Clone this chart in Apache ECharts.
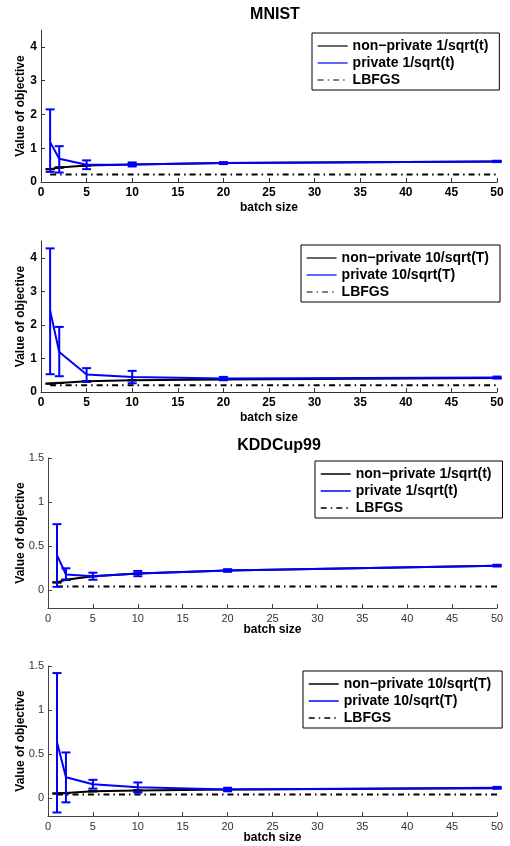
<!DOCTYPE html>
<html>
<head>
<meta charset="utf-8">
<script src="https://cdn.jsdelivr.net/npm/echarts@6/dist/echarts.min.js"></script>
<style>
  html, body { margin: 0; padding: 0; background: #fff; }
  #chart { width: 510px; height: 846px; }
</style>
</head>
<body>
<div id="chart"></div>
<script>
// Batch sizes on the x axis (shared by every panel)
const batchSizes = [1, 2, 5, 10, 20, 50];

// MNIST, step size 1/sqrt(t)
const mnistNonPrivA = [0.38, 0.43, 0.49, 0.52, 0.56, 0.61];
const mnistPrivA    = [1.18, 0.69, 0.51, 0.52, 0.56, 0.61];
const mnistPrivALo  = [0.30, 0.28, 0.38, 0.46, 0.53, 0.59];
const mnistPrivAHi  = [2.15, 1.06, 0.64, 0.58, 0.59, 0.63];
const mnistLbfgsA   = [0.22, 0.22, 0.22, 0.22, 0.22, 0.22];

// MNIST, step size 10/sqrt(T)
const mnistNonPrivB = [0.25, 0.27, 0.32, 0.35, 0.37, 0.42];
const mnistPrivB    = [2.42, 1.19, 0.52, 0.45, 0.40, 0.43];
const mnistPrivBLo  = [0.53, 0.47, 0.30, 0.26, 0.35, 0.40];
const mnistPrivBHi  = [4.28, 1.94, 0.71, 0.63, 0.45, 0.46];
const mnistLbfgsB   = [0.20, 0.20, 0.20, 0.20, 0.20, 0.20];

// KDDCup99, step size 1/sqrt(t)
const kddNonPrivA = [0.09, 0.12, 0.16, 0.19, 0.225, 0.28];
const kddPrivA    = [0.40, 0.18, 0.16, 0.19, 0.225, 0.28];
const kddPrivALo  = [0.04, 0.12, 0.12, 0.16, 0.21, 0.27];
const kddPrivAHi  = [0.75, 0.25, 0.20, 0.22, 0.24, 0.29];
const kddLbfgsA   = [0.045, 0.045, 0.045, 0.045, 0.045, 0.045];

// KDDCup99, step size 10/sqrt(T)
const kddNonPrivB = [0.055, 0.06, 0.08, 0.09, 0.10, 0.115];
const kddPrivB    = [0.64, 0.24, 0.16, 0.125, 0.10, 0.12];
const kddPrivBLo  = [-0.16, -0.045, 0.11, 0.065, 0.08, 0.11];
const kddPrivBHi  = [1.42, 0.52, 0.21, 0.18, 0.12, 0.13];
const kddLbfgsB   = [0.045, 0.045, 0.045, 0.045, 0.045, 0.045];

// Tick labels of the value axes
const mnistYTicks = [0, 1, 2, 3, 4];
const kddYTicks = [0, 0.5, 1, 1.5];

// Legend entries
const nameNonPrivA = 'non\u2212private 1/sqrt(t)';
const namePrivA = 'private 1/sqrt(t)';
const nameNonPrivB = 'non\u2212private 10/sqrt(T)';
const namePrivB = 'private 10/sqrt(T)';
const nameLbfgs = 'LBFGS';

const FONT = '"Liberation Sans", Arial, Helvetica, sans-serif';

const panels = [
  { grid: { left: 41, top: 30, width: 456, height: 152 },
    yMin: 0, yMax: 4.5, yTicks: mnistYTicks, bold: true, yNameGap: 14, xNameGap: 20,
    nonPriv: mnistNonPrivA, priv: mnistPrivA, lo: mnistPrivALo, hi: mnistPrivAHi, lbfgs: mnistLbfgsA,
    names: [nameNonPrivA, namePrivA, nameLbfgs],
    legend: { left: 312, top: 33 } },
  { grid: { left: 41, top: 241, width: 456, height: 151 },
    yMin: 0, yMax: 4.5, yTicks: mnistYTicks, bold: true, yNameGap: 14, xNameGap: 20,
    nonPriv: mnistNonPrivB, priv: mnistPrivB, lo: mnistPrivBLo, hi: mnistPrivBHi, lbfgs: mnistLbfgsB,
    names: [nameNonPrivB, namePrivB, nameLbfgs],
    legend: { left: 301, top: 245 } },
  { grid: { left: 48, top: 458, width: 449, height: 150 },
    yMin: -0.2, yMax: 1.5, yTicks: kddYTicks, bold: false, yNameGap: 21, xNameGap: 16,
    nonPriv: kddNonPrivA, priv: kddPrivA, lo: kddPrivALo, hi: kddPrivAHi, lbfgs: kddLbfgsA,
    names: [nameNonPrivA, namePrivA, nameLbfgs],
    legend: { left: 315, top: 461 } },
  { grid: { left: 48, top: 666, width: 449, height: 150 },
    yMin: -0.2, yMax: 1.5, yTicks: kddYTicks, bold: false, yNameGap: 21, xNameGap: 16,
    nonPriv: kddNonPrivB, priv: kddPrivB, lo: kddPrivBLo, hi: kddPrivBHi, lbfgs: kddLbfgsB,
    names: [nameNonPrivB, namePrivB, nameLbfgs],
    legend: { left: 303, top: 671 } }
];

const pairs = (xs, ys) => xs.map((x, i) => [x, ys[i]]);

// Vertical whisker with horizontal caps at both ends
function errorBarSeries(i, lo, hi, color, z) {
  return {
    type: 'custom', xAxisIndex: i, yAxisIndex: i,
    data: batchSizes.map((x, k) => [x, lo[k], hi[k]]),
    encode: { x: 0, y: [1, 2] }, z: z, silent: true,
    renderItem: function (params, api) {
      const x = api.value(0);
      const a = api.coord([x, api.value(1)]);
      const b = api.coord([x, api.value(2)]);
      const cap = 4.5;
      const style = { stroke: color, lineWidth: 2, fill: null };
      const children = [
        { type: 'line', shape: { x1: b[0] - cap, y1: b[1], x2: b[0] + cap, y2: b[1] }, style: style },
        { type: 'line', shape: { x1: a[0] - cap, y1: a[1], x2: a[0] + cap, y2: a[1] }, style: style }
      ];
      if (Math.abs(a[1] - b[1]) > 0.1) {
        children.push({ type: 'line', shape: { x1: a[0], y1: a[1], x2: b[0], y2: b[1] }, style: style });
      }
      return { type: 'group', children: children };
    }
  };
}

const grids = [], xAxes = [], yAxes = [], series = [], legends = [];

panels.forEach((p, i) => {
  const axisColor = p.bold ? '#333' : '#444';
  const labelStyle = p.bold
    ? { fontFamily: FONT, fontSize: 12, fontWeight: 'bold', color: '#000' }
    : { fontFamily: FONT, fontSize: 11, fontWeight: 'normal', color: '#333' };

  grids.push(p.grid);

  xAxes.push({
    type: 'value', gridIndex: i, min: 0, max: 50, interval: 5,
    name: 'batch size', nameLocation: 'middle', nameGap: p.xNameGap, nameMoveOverlap: false,
    nameTextStyle: { fontFamily: FONT, fontSize: 12, fontWeight: 'bold', color: '#000' },
    axisLine: { show: true, onZero: false, lineStyle: { color: axisColor, width: 1 } },
    axisTick: { show: true, inside: true, length: 4, lineStyle: { color: axisColor } },
    axisLabel: Object.assign({ margin: 5 }, labelStyle),
    splitLine: { show: false }
  });

  yAxes.push({
    type: 'value', gridIndex: i, min: p.yMin, max: p.yMax,
    name: 'Value of objective', nameLocation: 'middle', nameGap: p.yNameGap, nameMoveOverlap: false,
    nameTextStyle: { fontFamily: FONT, fontSize: 12, fontWeight: 'bold', color: '#000' },
    axisLine: { show: true, onZero: false, lineStyle: { color: axisColor, width: 1 } },
    axisTick: { show: true, inside: true, length: 4, customValues: p.yTicks, lineStyle: { color: axisColor } },
    axisLabel: Object.assign({ margin: 4, customValues: p.yTicks }, labelStyle),
    splitLine: { show: false }
  });

  series.push({
    type: 'line', name: p.names[2], xAxisIndex: i, yAxisIndex: i,
    data: pairs(batchSizes, p.lbfgs), symbol: 'none',
    lineStyle: { color: '#000', width: 2, type: [6, 4, 1.5, 4] },
    itemStyle: { color: '#000' }, z: 2, silent: true
  });
  series.push({
    type: 'line', name: p.names[0], xAxisIndex: i, yAxisIndex: i,
    data: pairs(batchSizes, p.nonPriv), symbol: 'none',
    lineStyle: { color: '#000', width: 2 }, itemStyle: { color: '#000' }, z: 3, silent: true
  });
  series.push(errorBarSeries(i, p.nonPriv, p.nonPriv, '#000', 3));
  series.push({
    type: 'line', name: p.names[1], xAxisIndex: i, yAxisIndex: i,
    data: pairs(batchSizes, p.priv), symbol: 'none',
    lineStyle: { color: '#0000ff', width: 2 }, itemStyle: { color: '#0000ff' }, z: 4, silent: true
  });
  series.push(errorBarSeries(i, p.lo, p.hi, '#0000ff', 5));

  legends.push({
    left: p.legend.left, top: p.legend.top,
    orient: 'vertical', data: p.names,
    itemWidth: 30, itemHeight: 14, itemGap: 3,
    padding: [6, 11, 3, 5],
    borderColor: '#000', borderWidth: 1, backgroundColor: '#fff',
    selectedMode: false,
    itemStyle: { opacity: 0 },
    textStyle: { fontFamily: FONT, fontSize: 14, fontWeight: 'bold', color: '#000' },
    lineStyle: { width: p.bold ? 1.2 : 1.5 }
  });
});

const chart = echarts.init(document.getElementById('chart'), null, { renderer: 'canvas' });
chart.setOption({
  backgroundColor: '#fff',
  animation: false,
  title: [
    { text: 'MNIST', left: 270, top: 2, textAlign: 'center',
      textStyle: { fontFamily: FONT, fontSize: 16, fontWeight: 'bold', color: '#000' } },
    { text: 'KDDCup99', left: 274, top: 433, textAlign: 'center',
      textStyle: { fontFamily: FONT, fontSize: 16, fontWeight: 'bold', color: '#000' } }
  ],
  grid: grids,
  xAxis: xAxes,
  yAxis: yAxes,
  legend: legends,
  series: series
});
</script>
</body>
</html>
